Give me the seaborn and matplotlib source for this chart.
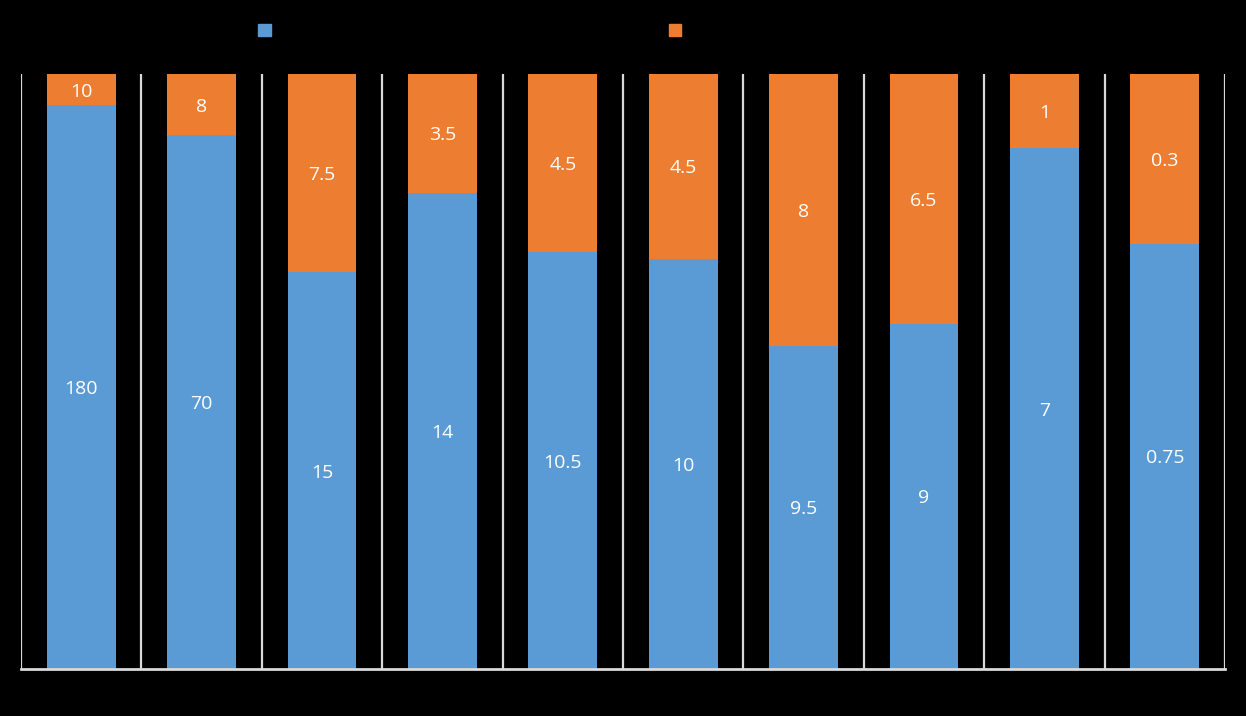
import numpy as np
import pandas as pd
import seaborn as sns
import matplotlib.pyplot as plt
from matplotlib.patches import Patch

# data (100% stacked bars)
categories = ["A", "B", "C", "D", "E", "F", "G", "H", "I", "J"]
series_1 = [180, 70, 15, 14, 10.5, 10, 9.5, 9, 7, 0.75]
series_2 = [10, 8, 7.5, 3.5, 4.5, 4.5, 8, 6.5, 1, 0.3]
label_1 = [str(v) for v in series_1]
label_2 = [str(v) for v in series_2]

BLUE = "#5b9bd5"
ORANGE = "#ed7d31"
GRID = "#d9d9d9"

df = pd.DataFrame({"cat": categories, "s1": series_1, "s2": series_2})
total = df["s1"] + df["s2"]
df["p1"] = df["s1"] / total
df["p2"] = df["s2"] / total

sns.set_theme(style="white")
plt.rcParams["font.family"] = ["Open Sans", "DejaVu Sans"]

fig = plt.figure(figsize=(12.46, 7.16), dpi=100, facecolor="black")
ax = fig.add_axes([21 / 1246, 47 / 716, (1225 - 21) / 1246, (669 - 74) / 716])
ax.set_facecolor("black")

sns.barplot(data=df, x="cat", y="p1", color=BLUE, width=0.57,
            saturation=1, ax=ax, linewidth=0)
sns.barplot(data=df, x="cat", y="p2", color=ORANGE, width=0.57,
            saturation=1, ax=ax, linewidth=0, bottom=df["p1"].values)

# value labels in the middle of each segment
for i, row in df.iterrows():
    ax.text(i, row["p1"] / 2, label_1[i], ha="center", va="center_baseline",
            color="white", fontsize=14)
    ax.text(i, row["p1"] + row["p2"] / 2, label_2[i], ha="center",
            va="center_baseline", color="white", fontsize=14)

# vertical separators between categories
for x in np.arange(-0.5, len(categories), 1.0):
    ax.axvline(x, color=GRID, linewidth=1.6, zorder=0)

ax.set_xlim(-0.5, len(categories) - 0.5)
ax.set_ylim(0, 1)
ax.set_xticks([])
ax.set_yticks([])
ax.set_xlabel("")
ax.set_ylabel("")
for side in ["top", "left", "right"]:
    ax.spines[side].set_visible(False)
ax.spines["bottom"].set_color(GRID)
ax.spines["bottom"].set_linewidth(2)

handles = [Patch(color=BLUE), Patch(color=ORANGE)]
leg = fig.legend(handles, ["Series 1", "Series 2"], ncol=2,
                 loc="upper left", bbox_to_anchor=(258 / 1246, 0.969),
                 frameon=False, fontsize=13, handlelength=0.7,
                 handleheight=0.7, handletextpad=0.5, columnspacing=17.93,
                 borderpad=0, borderaxespad=0)
for t in leg.get_texts():
    t.set_color("black")

fig.savefig("out.png", dpi=100, facecolor="black")
